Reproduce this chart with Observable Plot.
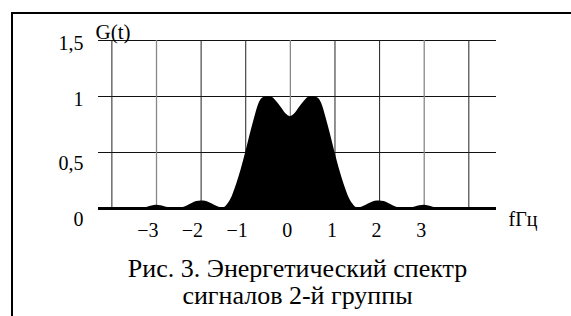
<!DOCTYPE html>
<html><head><meta charset="utf-8">
<script src="https://cdn.jsdelivr.net/npm/d3@7"></script>
<script src="https://cdn.jsdelivr.net/npm/@observablehq/plot@0.6"></script>
<style>
body{margin:0;background:#fff}
#wrap{position:relative;width:571px;height:316px;overflow:hidden;background:#fff}
#frame{position:absolute;left:11px;top:12px;width:600px;height:400px;border-left:2px solid #000;border-top:2px solid #000;pointer-events:none}
</style></head><body><div id="wrap"></div>
<script>
// spectrum: frequency (Hz) and energy G
const freq = [-4.3,-3.4,-3.3,-3.2,-3.1,-3.0,-2.9,-2.8,-2.7,-2.6,-2.5,-2.4,-2.3,-2.2,-2.1,-2.0,-1.9,-1.8,-1.7,-1.6,-1.5,-1.4,-1.3,-1.2,-1.1,-1.0,-0.9,-0.8,-0.7,-0.6,-0.5,-0.4,-0.3,-0.2,-0.1,0,0.1,0.2,0.3,0.4,0.5,0.6,0.7,0.8,0.9,1.0,1.1,1.2,1.3,1.4,1.5,1.6,1.7,1.8,1.9,2.0,2.1,2.2,2.3,2.4,2.5,2.6,2.7,2.8,2.9,3.0,3.1,3.2,3.3,3.4,4.62];
const gain = [0,0,0.003,0.012,0.022,0.028,0.024,0.014,0.005,0,0,0.008,0.025,0.045,0.062,0.068,0.064,0.05,0.03,0.012,0.005,0.04,0.11,0.22,0.35,0.50,0.66,0.81,0.94,0.99,1.00,0.99,0.95,0.90,0.845,0.82,0.845,0.90,0.95,0.99,1.00,0.99,0.94,0.81,0.66,0.50,0.35,0.22,0.11,0.04,0.005,0.012,0.03,0.05,0.064,0.068,0.062,0.045,0.025,0.008,0,0,0.005,0.014,0.024,0.028,0.022,0.012,0.003,0,0];
const xGridDark = [-4,-2,-1,1,2,4];
const xGridGray = [-3,0,3];
const yGrid = [0.5,1,1.5];
const xTickValues = [-3,-2,-1,0,1,2,3];
const xTickLabels = ["−3","−2","−1","0","1","2","3"];
const yTickValues = [1.5,1,0.5,0];
const yTickLabels = ["1,5","1","0,5","0"];
const yLabel = "G(t)";
const xLabel = "fГц";
const caption = ["Рис. 3. Энергетический спектр","сигналов 2-й группы"];

const data = freq.map((f,i)=>({f, g: gain[i]}));
const yTicks = yTickValues.map((v,i)=>({v, label: yTickLabels[i]}));
const serif = "Liberation Serif";

const chart = Plot.plot({
  width: 571, height: 316,
  marginLeft: 98, marginRight: 75, marginTop: 40, marginBottom: 108,
  x: {domain: [-4.3, 4.62], axis: null},
  y: {domain: [0, 1.5], axis: null},
  style: {fontFamily: serif, fontSize: "20px"},
  marks: [
    Plot.ruleY(yGrid, {stroke: "#111", strokeWidth: 1}),
    Plot.ruleX(xGridDark, {y1: 0, y2: 1.5, stroke: "#222", strokeWidth: 1}),
    Plot.ruleX(xGridGray, {y1: 0, y2: 1.5, stroke: "#888", strokeWidth: 1.3}),
    Plot.areaY(data, {x: "f", y: "g", fill: "#000", curve: "monotone-x"}),
    Plot.ruleY([0], {stroke: "#000", strokeWidth: 3}),
    Plot.text(xTickValues, {x: d => d, y: 0, text: (d,i) => xTickLabels[i], textAnchor: "end", dx: 2, dy: 22, fontSize: 20, fontFamily: serif, fill: "#000"}),
    Plot.text(yTicks.filter(d => d.v >= 1), {y: "v", frameAnchor: "left", text: "label", textAnchor: "end", dx: -15, dy: 3, fontSize: 20, fontFamily: serif, fill: "#000"}),
    Plot.text(yTicks.filter(d => d.v < 1), {y: "v", frameAnchor: "left", text: "label", textAnchor: "end", dx: -15, dy: 11, fontSize: 20, fontFamily: serif, fill: "#000"}),
    Plot.text([yLabel], {frameAnchor: "top-left", text: d => d, textAnchor: "start", dx: -3, dy: -16, fontSize: 21, fontFamily: serif, fill: "#000"}),
    Plot.text([xLabel], {frameAnchor: "bottom-right", text: d => d, textAnchor: "start", dx: 12, dy: 17, fontSize: 20, fontFamily: serif, fill: "#000"}),
    Plot.text([caption.join("\n")], {frameAnchor: "bottom", text: d => d, textAnchor: "middle", lineAnchor: "top", lineHeight: 27/26, dy: 49, fontSize: 26, fontFamily: serif, fill: "#000"})
  ]
});
const wrap = document.getElementById("wrap");
wrap.appendChild(chart);
const frame = document.createElement("div");
frame.id = "frame";
wrap.appendChild(frame);
</script></body></html>
